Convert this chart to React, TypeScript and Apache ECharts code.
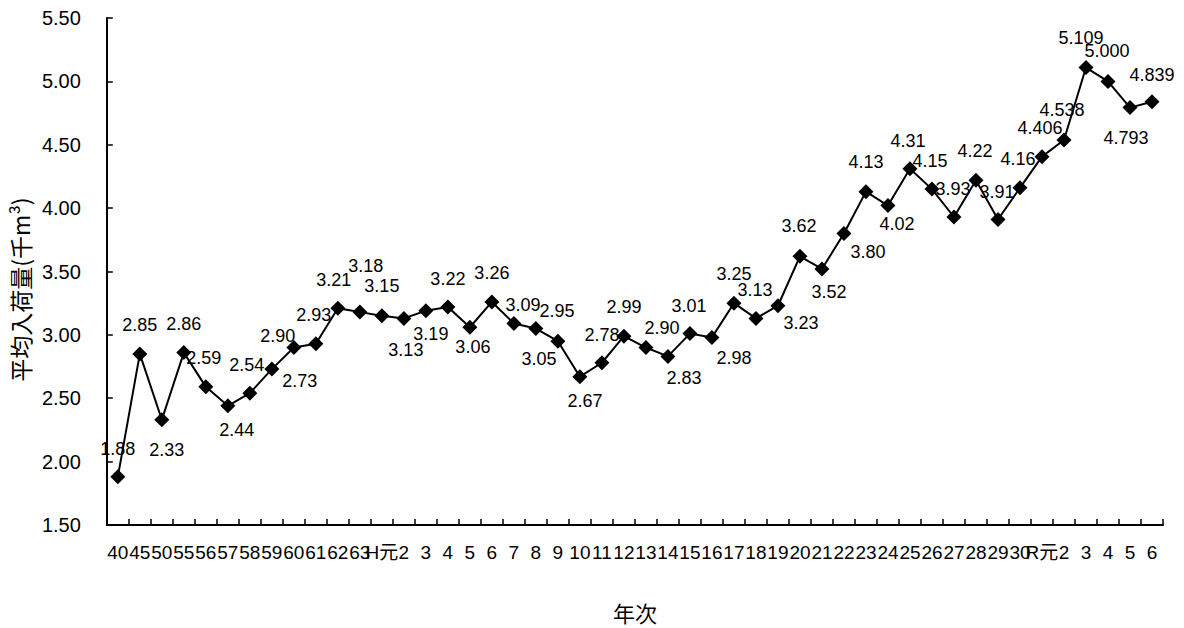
import React, { useEffect, useRef } from "react";
import * as echarts from "echarts";

const categories: string[] = [
  "40", "45", "50", "55", "56", "57", "58", "59", "60", "61", "62", "63",
  "H元", "2", "3", "4", "5", "6", "7", "8", "9", "10", "11", "12", "13", "14",
  "15", "16", "17", "18", "19", "20", "21", "22", "23", "24", "25", "26", "27",
  "28", "29", "30", "R元", "2", "3", "4", "5", "6",
];

const values: number[] = [
  1.88, 2.85, 2.33, 2.86, 2.59, 2.44, 2.54, 2.73, 2.9, 2.93, 3.21, 3.18,
  3.15, 3.13, 3.19, 3.22, 3.06, 3.26, 3.09, 3.05, 2.95, 2.67, 2.78, 2.99,
  2.9, 2.83, 3.01, 2.98, 3.25, 3.13, 3.23, 3.62, 3.52, 3.8, 4.13, 4.02,
  4.31, 4.15, 3.93, 4.22, 3.91, 4.16, 4.406, 4.538, 5.109, 5.0, 4.793, 4.839,
];

// label text as shown (2 or 3 decimals)
const labelTexts: string[] = [
  "1.88", "2.85", "2.33", "2.86", "2.59", "2.44", "2.54", "2.73", "2.90", "2.93", "3.21", "3.18",
  "3.15", "3.13", "3.19", "3.22", "3.06", "3.26", "3.09", "3.05", "2.95", "2.67", "2.78", "2.99",
  "2.90", "2.83", "3.01", "2.98", "3.25", "3.13", "3.23", "3.62", "3.52", "3.80", "4.13", "4.02",
  "4.31", "4.15", "3.93", "4.22", "3.91", "4.16", "4.406", "4.538", "5.109", "5.000", "4.793", "4.839",
];

const yTicks = { min: 1.5, max: 5.5, interval: 0.5 };

// label offsets (style): displacement of label centre from marker centre
const labelOffsets: [number, number][] = [
  [0, -28], [0, -29], [5, 30], [0, -29], [-2, -29], [9, 24], [-3, -28], [28, 12],
  [-16, -12], [-2, -29], [-4, -28], [6, -46], [0, -30], [2, 32], [5, 23], [0, -28],
  [3, 20], [0, -29], [9, -18], [3, 30], [-1, -30], [5, 24], [0, -28], [0, -29],
  [16, -20], [16, 22], [-1, -28], [22, 21], [0, -29], [-1, -28], [23, 17], [-1, -30],
  [7, 23], [24, 19], [0, -30], [9, 18], [-2, -28], [-2, -28], [-1, -28], [-1, -29],
  [-1, -28], [-2, -29], [-2, -29], [-2, -30], [-5, -30], [-1, -30], [-4, 30], [0, -27],
];

export default function App() {
  const ref = useRef<HTMLDivElement>(null);
  useEffect(() => {
    if (!ref.current) return;
    const chart = echarts.init(ref.current, undefined, { renderer: "svg" });
    const font = "'Liberation Sans', Arial, 'Noto Sans CJK JP', sans-serif";
    const cjk = "'Noto Sans CJK JP', sans-serif";
    chart.setOption({
      animation: false,
      backgroundColor: "#ffffff",
      textStyle: { fontFamily: font, color: "#000" },
      grid: { left: 102, right: 21, top: 18, bottom: 100, containLabel: false },
      xAxis: {
        type: "category",
        data: categories,
        boundaryGap: true,
        name: "年次",
        nameLocation: "middle",
        nameGap: 76,
        nameTextStyle: { fontSize: 22, color: "#000", fontFamily: cjk },
        axisLine: { lineStyle: { color: "#000", width: 2 } },
        axisTick: { show: true, inside: true, length: 6, alignWithLabel: false, interval: 0, lineStyle: { color: "#000", width: 1.5 } },
        axisLabel: { interval: 0, fontSize: 19, color: "#000", margin: 18, fontFamily: font, hideOverlap: false },
        splitLine: { show: false },
      },
      yAxis: {
        type: "value",
        min: yTicks.min,
        max: yTicks.max,
        interval: yTicks.interval,
        name: "平均入荷量(千m³)",
        nameLocation: "middle",
        nameRotate: 90,
        nameGap: 70,
        nameTextStyle: { fontSize: 23, color: "#000", fontFamily: cjk, padding: [0, 36, 0, 0] },
        axisLine: { show: true, lineStyle: { color: "#000", width: 2 } },
        axisTick: { show: true, inside: true, length: 6, lineStyle: { color: "#000", width: 1.5 } },
        axisLabel: { fontSize: 20, color: "#000", margin: 26, formatter: (v: number) => v.toFixed(2) },
        splitLine: { show: false },
      },
      series: [
        {
          type: "line",
          data: values,
          symbol: "diamond",
          symbolSize: 15,
          showAllSymbol: true,
          itemStyle: { color: "#000" },
          lineStyle: { color: "#000", width: 2 },
          label: {
            show: true,
            position: "inside",
            fontSize: 18,
            color: "#000",
            fontFamily: font,
            formatter: (p: any) => labelTexts[p.dataIndex],
          },
          labelLayout: (p: any) => {
            const o = labelOffsets[p.dataIndex] || [0, -28];
            return { dx: o[0], dy: o[1], hideOverlap: false };
          },
        },
      ],
    });
    return () => chart.dispose();
  }, []);
  return <div ref={ref} style={{ width: 1184, height: 628, position: "absolute", left: 0, top: 0 }} />;
}
